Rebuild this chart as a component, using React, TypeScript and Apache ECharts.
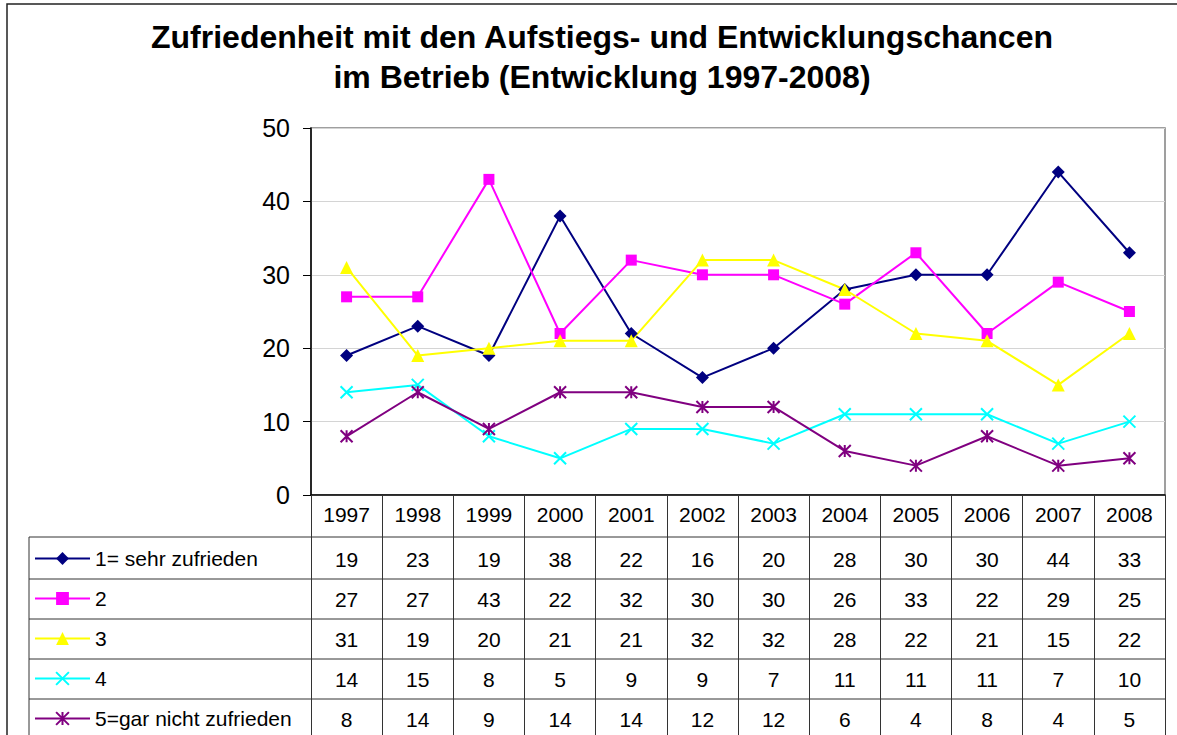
import React, { useEffect, useRef } from "react";
import * as echarts from "echarts";

const years = ["1997", "1998", "1999", "2000", "2001", "2002", "2003", "2004", "2005", "2006", "2007", "2008"];
const seriesNames = ["1= sehr zufrieden", "2", "3", "4", "5=gar nicht zufrieden"];
const s1 = [19, 23, 19, 38, 22, 16, 20, 28, 30, 30, 44, 33];
const s2 = [27, 27, 43, 22, 32, 30, 30, 26, 33, 22, 29, 25];
const s3 = [31, 19, 20, 21, 21, 32, 32, 28, 22, 21, 15, 22];
const s4 = [14, 15, 8, 5, 9, 9, 7, 11, 11, 11, 7, 10];
const s5 = [8, 14, 9, 14, 14, 12, 12, 6, 4, 8, 4, 5];
const allSeries = [s1, s2, s3, s4, s5];
const colors = ["#000080", "#FF00FF", "#FFFF00", "#00FFFF", "#800080"];
const titleLines = ["Zufriedenheit mit den Aufstiegs- und Entwicklungschancen", "im Betrieb (Entwicklung 1997-2008)"];

const FONT = "'Liberation Sans', Arial, sans-serif";
const CROSS = "path://M0,0L10,10M10,0L0,10";
const STAR = "path://M0,0L10,10M10,0L0,10M5,0L5,10";

export default function App() {
  const ref = useRef<HTMLDivElement>(null);
  useEffect(() => {
    if (!ref.current) return;
    const chart = echarts.init(ref.current, null, { renderer: "svg" });
    const gridLeft = 311, gridRight = 1165, gridTop = 128, gridBottom = 495;
    const rowCenters = [559, 599, 639, 679, 719];
    const yearCenter = 514.5;
    const labelMargin = 9;
    const rowLines = [537, 579, 619, 659, 699];

    const symbols = ["diamond", "rect", "triangle", CROSS, STAR];
    const sizes = [13, 11, 13, 12, 12];

    const extraAxes = allSeries.map((vals, i) => ({
      type: "category",
      data: years,
      gridIndex: 0,
      position: "bottom",
      offset: rowCenters[i] - yearCenter,
      axisLine: { show: false },
      axisTick: { show: false },
      splitLine: { show: false },
      axisLabel: {
        interval: 0,
        margin: labelMargin,
        fontSize: 21,
        lineHeight: 21,
        fontFamily: FONT,
        color: "#000",
        formatter: (_v: string, idx: number) => String(vals[idx]),
      },
    }));

    const legends = seriesNames.map((name, i) => ({
      orient: "horizontal",
      left: 34,
      top: rowCenters[i] - 11,
      padding: 0,
      itemWidth: 55,
      itemHeight: 16,
      selectedMode: false,
      textStyle: { fontSize: 21, fontFamily: FONT, color: "#000" },
      data: [name],
    }));

    const graphics: any[] = [
      {
        type: "rect",
        silent: true,
        z: -1,
        shape: { x: 7, y: 4, width: 1400, height: 1000 },
        style: { fill: "none", stroke: "#222", lineWidth: 1.5 },
      },
      ...titleLines.map((t, i) => ({
        type: "text",
        x: 602,
        y: 37 + i * 40,
        style: {
          text: t,
          align: "center",
          verticalAlign: "middle",
          fontSize: 32,
          fontWeight: "bold",
          fontFamily: FONT,
          fill: "#000",
        },
      })),
      ...rowLines.map((y) => ({
        type: "line",
        silent: true,
        shape: { x1: 29, y1: y, x2: gridRight, y2: y },
        style: { stroke: "#333", lineWidth: 1 },
      })),
      {
        type: "line",
        silent: true,
        shape: { x1: 29, y1: rowLines[0], x2: 29, y2: 740 },
        style: { stroke: "#333", lineWidth: 1 },
      },
    ];

    chart.setOption({
      animation: false,
      backgroundColor: "#fff",
      grid: {
        left: gridLeft,
        right: 1177 - gridRight,
        top: gridTop,
        bottom: 735 - gridBottom,
        show: true,
        borderColor: "#808080",
        borderWidth: 1.5,
      },
      legend: legends,
      xAxis: [
        {
          type: "category",
          data: years,
          boundaryGap: true,
          axisLine: { show: true, lineStyle: { color: "#000", width: 1.5 } },
          axisTick: { show: true, length: 245, interval: 0, lineStyle: { color: "#333", width: 1 } },
          axisLabel: { interval: 0, margin: labelMargin, fontSize: 21, lineHeight: 21, fontFamily: FONT, color: "#000" },
          splitLine: { show: false },
        },
        ...extraAxes,
      ],
      yAxis: {
        type: "value",
        min: 0,
        max: 50,
        interval: 10,
        axisLine: { show: true, lineStyle: { color: "#000", width: 1.5 } },
        axisTick: { show: true, length: 8, lineStyle: { color: "#000", width: 1 } },
        axisLabel: { margin: 21, fontSize: 25, fontFamily: FONT, color: "#000" },
        splitLine: { show: true, lineStyle: { color: "#D4D4D4", width: 1 } },
      },
      series: allSeries.map((vals, i) => ({
        name: seriesNames[i],
        type: "line",
        data: vals,
        xAxisIndex: 0,
        symbol: symbols[i],
        symbolSize: sizes[i],
        showAllSymbol: true,
        color: colors[i],
        itemStyle:
          i >= 3
            ? { color: colors[i], borderColor: colors[i], borderWidth: 2 }
            : { color: colors[i] },
        lineStyle: { color: colors[i], width: 2 },
      })),
      graphic: graphics,
    });
    return () => chart.dispose();
  }, []);
  return (
    <div
      ref={ref}
      style={{ position: "absolute", left: 0, top: 0, width: 1177, height: 735 }}
    />
  );
}
